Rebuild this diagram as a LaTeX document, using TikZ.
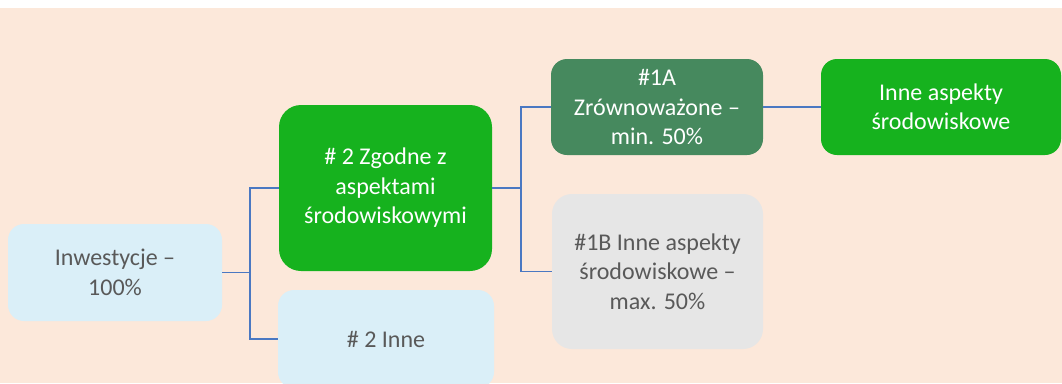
\documentclass[tikz,border=0pt]{standalone}
\usepackage{fontspec}
\setmainfont{Carlito}
\usepackage{xcolor}
\usetikzlibrary{positioning}

\definecolor{peach}{HTML}{FCE8DA}
\definecolor{brightgreen}{HTML}{16B21E}
\definecolor{darkgreen}{HTML}{46895E}
\definecolor{paleblue}{HTML}{DAEFF8}
\definecolor{palegrey}{HTML}{E6E6E6}
\definecolor{textgrey}{HTML}{595959}
\definecolor{linkblue}{HTML}{4A78C2}

\begin{document}
\begin{tikzpicture}[
  x=1pt, y=-1pt,
  box/.style={rounded corners=16pt,inner sep=0pt,align=center,
              font=\fontsize{24}{29.5}\selectfont},
  lightbox/.style={box,fill=paleblue,text=textgrey},
  greenbox/.style={box,fill=brightgreen,text=white},
  conn/.style={draw=linkblue,line width=1.6pt}
]
\useasboundingbox (0,0) rectangle (1062,383);
\fill[peach] (0,8) rectangle (1062,383);

\begin{scope}
\clip (0,8) rectangle (1062,383);
\node[lightbox,minimum width=214pt,minimum height=97pt]
  (Inv) at (115,272.5) {Inwestycje --\\100\%};
\node[greenbox,rounded corners=22pt,minimum width=213pt,minimum height=166pt]
  (Zg) at (385.5,188) {\# 2 Zgodne z\\aspektami\\środowiskowymi};
\node[lightbox,minimum width=216pt,minimum height=98pt]
  (In2) at (386,339) {\# 2 Inne};
\node[box,fill=darkgreen,text=white,minimum width=212pt,minimum height=96pt]
  (SA) at (657,107) {\#1A\\Zrównoważone --\\min. 50\%};
\node[box,rounded corners=20pt,fill=palegrey,text=textgrey,
      minimum width=211pt,minimum height=155pt]
  (SB) at (657.5,271.5) {\#1B Inne aspekty\\środowiskowe --\\max. 50\%};
\node[greenbox,minimum width=240pt,minimum height=96pt]
  (IA) at (941,107) {Inne aspekty\\środowiskowe};
\end{scope}

% tree links, elbow through a junction point
\coordinate[right=28pt of Inv.east] (j1);
\coordinate[right=29pt of Zg.east]  (j2);
\draw[conn] (Inv.east) -- (j1) |- (Zg.west);
\draw[conn] (j1) |- (In2.west);
\draw[conn] (Zg.east) -- (j2) |- (SA.west);
\draw[conn] (j2) |- (SB.west);
\draw[conn] (SA) -- (IA);
\end{tikzpicture}
\end{document}
